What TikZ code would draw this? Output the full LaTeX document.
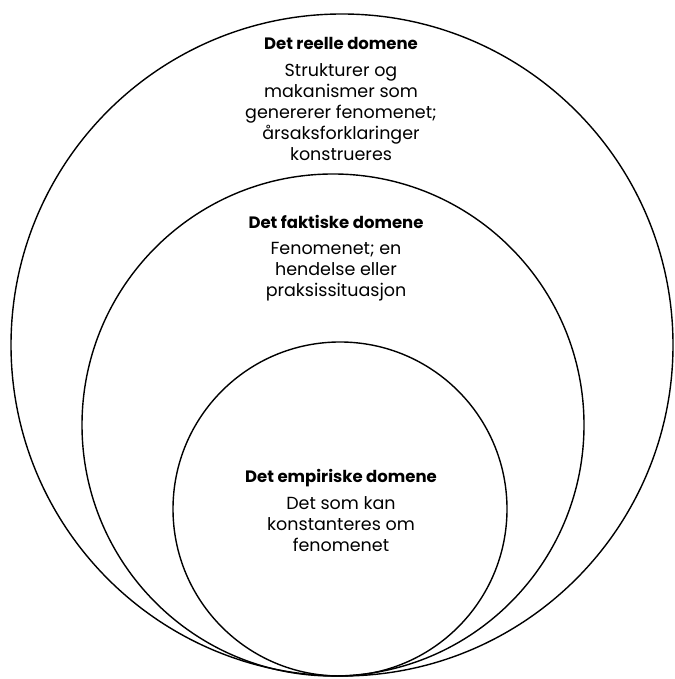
\documentclass[tikz,border=0pt]{standalone}
\usepackage{fontspec}
\setmainfont{Poppins}
\tikzset{
  ring/.style={draw=black,line width=1.4pt},
  dtitle/.style={font=\fontsize{16.5}{19}\selectfont\bfseries},
  dbody/.style={font=\fontsize{17.5}{21}\selectfont,align=center}
}

\begin{document}
\begin{tikzpicture}[x=1pt,y=1pt]
\useasboundingbox (0,0) rectangle (674,679);
%the three domains
\draw[ring] (342,334) circle (331);
\draw[ring] (333,254) circle (251);
\draw[ring] (340,170) circle (167);
%det reelle domene
\node[dtitle] (reell) at (341,636) {Det reelle domene};
\node[dbody] (reelltxt) at (341,567) {Strukturer og\\makanismer som\\genererer fenomenet;\\årsaksforklaringer\\konstrueres};
%det faktiske domene
\node[dtitle] (faktisk) at (336,457) {Det faktiske domene};
\node[dbody] (faktisktxt) at (336,407) {Fenomenet; en\\hendelse eller\\praksissituasjon};
%det empiriske domene
\node[dtitle] (empirisk) at (341,201) {Det empiriske domene};
\node[dbody] (empirisktxt) at (341,155) {Det som kan\\konstanteres om\\fenomenet};
\end{tikzpicture}
\end{document}
